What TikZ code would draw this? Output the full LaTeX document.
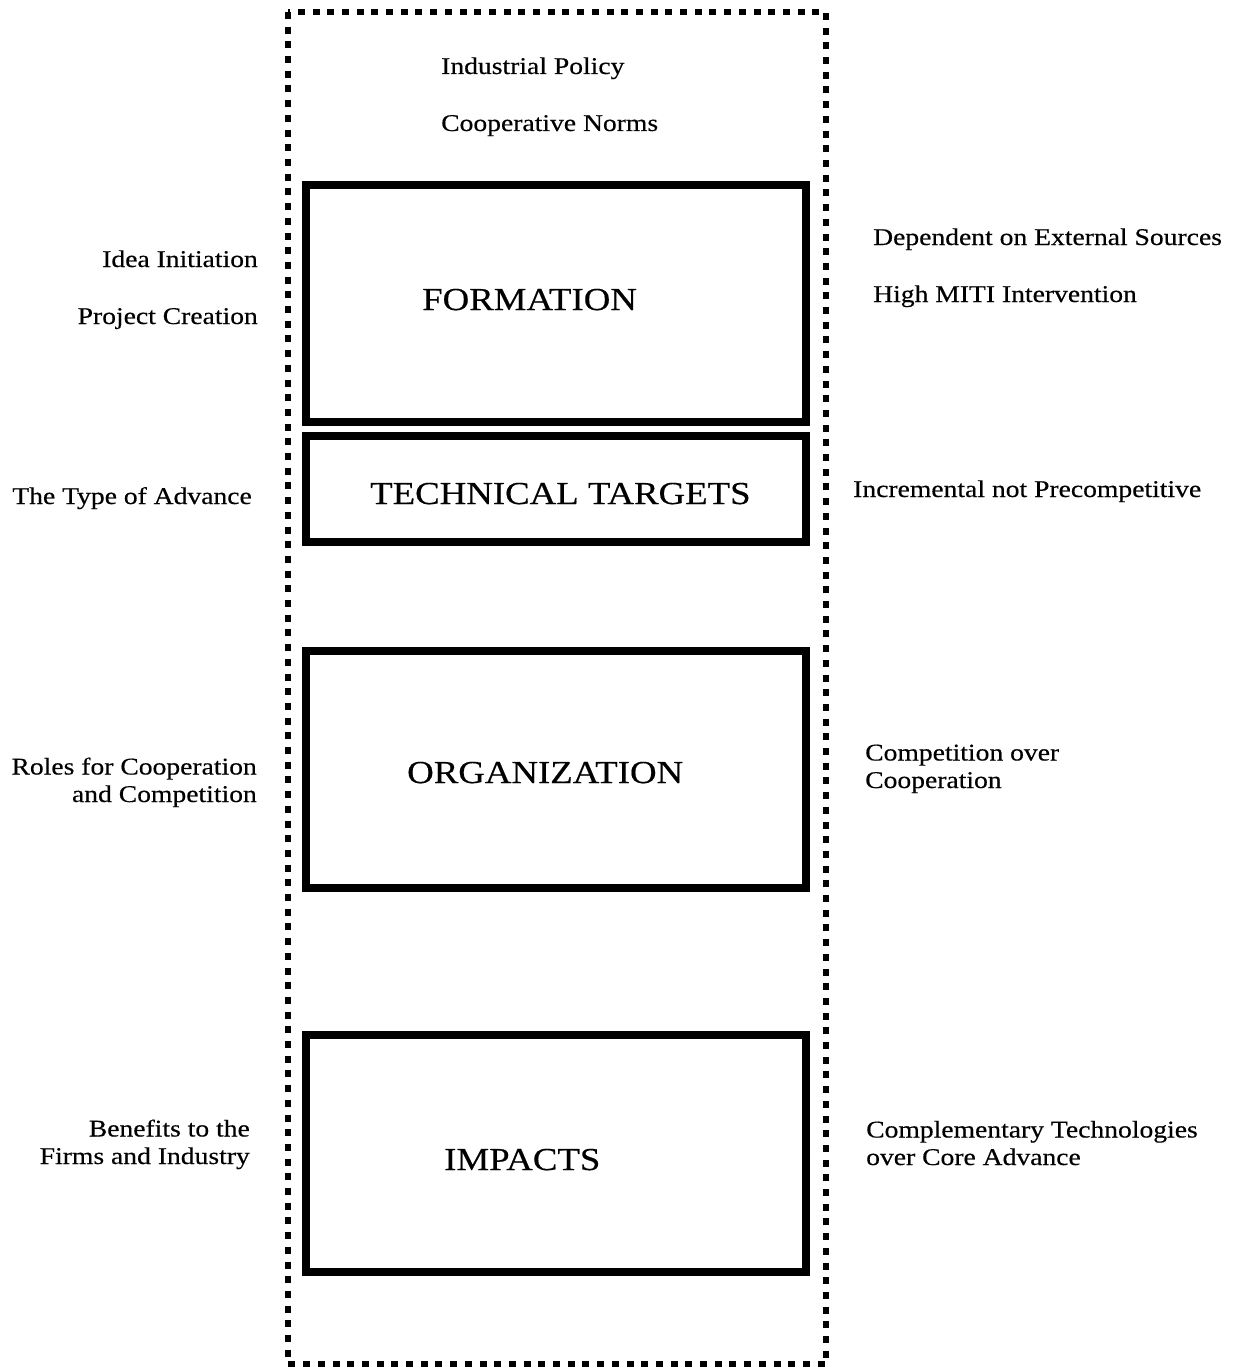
\documentclass[tikz,border=0pt]{standalone}
\usepackage{fontspec}
\setmainfont{Liberation Serif}[FakeStretch=1.15, FakeBold=0.4]
\begin{document}
\begin{tikzpicture}[x=1pt,y=-1pt,
  stage/.style={draw, line width=8pt, inner sep=0pt},
  title/.style={font=\fontsize{32}{38}\selectfont, inner sep=0pt, anchor=base west},
  note/.style={font=\fontsize{24}{27.5}\selectfont, inner sep=0pt},
  lnote/.style={note, anchor=base east, align=right},
  rnote/.style={note, anchor=base west, align=left},
  frame/.style={line width=6pt, dash pattern=on 7pt off 7.7pt}]
\useasboundingbox (0,0) rectangle (1239,1367);

% dotted outer frame
\draw[frame] (288,12) rectangle (826,1364);

% stage boxes
\node[stage, minimum width=500pt, minimum height=237pt] (formation) at (556,303.5) {};
\node[stage, minimum width=500pt, minimum height=106pt] (targets) at (556,489) {};
\node[stage, minimum width=500pt, minimum height=237pt] (organization) at (556,769.5) {};
\node[stage, minimum width=500pt, minimum height=237pt] (impacts) at (556,1153.5) {};

% stage titles
\node[title] (tformation) at (422,310) {FORMATION};
\node[title] (ttargets) at (370,504) {TECHNICAL TARGETS};
\node[title] (torganization) at (407,783) {ORGANIZATION};
\node[title] (timpacts) at (444,1170) {IMPACTS};

% context at the top of the frame
\node[rnote] (policy) at (441,74) {Industrial Policy};
\node[rnote] (norms) at (441,131) {Cooperative Norms};

% left-hand labels (multi-line nodes are placed by their last baseline)
\node[lnote] (idea) at (258,267) {Idea Initiation};
\node[lnote] (project) at (258,324) {Project Creation};
\node[lnote] (advance) at (252,504) {The Type of Advance};
\node[lnote] (roles) at (257,802) {Roles for Cooperation\\and Competition};
\node[lnote] (benefits) at (250,1164) {Benefits to the\\Firms and Industry};

% right-hand findings
\node[rnote] (external) at (873,245) {Dependent on External Sources};
\node[rnote] (miti) at (873,302) {High MITI Intervention};
\node[rnote] (incremental) at (853,497) {Incremental not Precompetitive};
\node[rnote] (competition) at (865,788) {Competition over\\Cooperation};
\node[rnote] (complementary) at (866,1165) {Complementary Technologies\\over Core Advance};
\end{tikzpicture}
\end{document}
